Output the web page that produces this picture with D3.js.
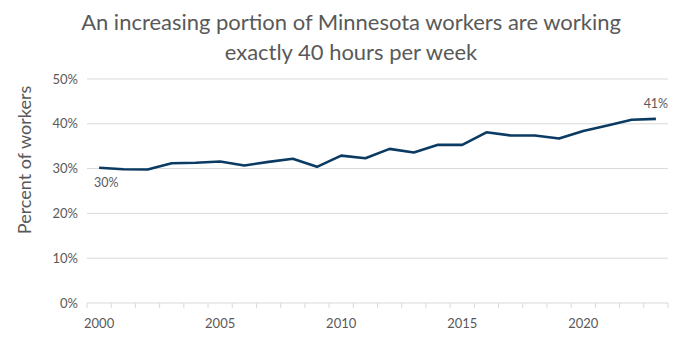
<!DOCTYPE html>
<html><head><meta charset="utf-8">
<script src="https://cdn.jsdelivr.net/npm/d3@7/dist/d3.min.js"></script>
<style>body{margin:0;background:#fff;} svg{display:block;font-family:Lato,"Open Sans","Liberation Sans",sans-serif;}</style>
</head><body><svg id="c" width="700" height="359"></svg>
<script>
const years = d3.range(2000, 2024);
const values = [30.2,29.85,29.8,31.2,31.3,31.6,30.7,31.5,32.2,30.4,32.9,32.3,34.4,33.6,35.3,35.3,38.1,37.4,37.4,36.7,38.4,39.6,40.9,41.1];
const yTicks = [0,10,20,30,40,50];
const xLabelYears = [2000,2005,2010,2015,2020];
const titleLines = ["An increasing portion of Minnesota workers are working","exactly 40 hours per week"];
const yTitle = "Percent of workers";

const svg = d3.select("#c");
const m = {l:87, r:700-668, t:79, b:359-303};
const W = 700, H = 359;
const x = d3.scaleBand().domain(years).range([m.l, W-m.r]);
const y = d3.scaleLinear().domain([0,50]).range([H-m.b, m.t]);
const gray = "#595959";

// gridlines
svg.append("g").selectAll("line").data(yTicks.filter(d=>d>0)).join("line")
  .attr("x1", m.l).attr("x2", W-m.r).attr("y1", d=>y(d)).attr("y2", d=>y(d))
  .attr("stroke", "#d9d9d9").attr("stroke-width", 1);

// y labels
svg.append("g").selectAll("text").data(yTicks).join("text")
  .attr("x", 78).attr("y", d=>y(d)).attr("dy","0.35em").attr("text-anchor","end")
  .attr("font-size", 13).attr("fill", gray).text(d=>d+"%");

// x axis
const xa = svg.append("g").attr("transform", `translate(0,${y(0)})`);
xa.append("line").attr("x1", m.l).attr("x2", W-m.r).attr("stroke","#d9d9d9");
const edges = years.map(d=>x(d)).concat([x(years[years.length-1])+x.bandwidth()]);
xa.selectAll("line.t").data(edges).join("line").attr("class","t")
  .attr("x1", d=>d).attr("x2", d=>d).attr("y1",0).attr("y2",5).attr("stroke","#d9d9d9");
xa.selectAll("text").data(xLabelYears).join("text")
  .attr("x", d=>x(d)+x.bandwidth()/2).attr("y", 25).attr("text-anchor","middle")
  .attr("font-size", 13).attr("fill", gray).text(d=>d);

// line
const line = d3.line().x((d,i)=>x(years[i])+x.bandwidth()/2).y(d=>y(d));
svg.append("path").datum(values).attr("d", line).attr("fill","none")
  .attr("stroke","#0b3a63").attr("stroke-width",2.6).attr("stroke-linejoin","round");

// data labels
svg.append("text").attr("x", x(years[0])+x.bandwidth()/2-5).attr("y", y(values[0])+19)
  .attr("font-size", 12.5).attr("fill", gray).text(Math.round(values[0])+"%");
svg.append("text").attr("x", x(years[23])+x.bandwidth()/2).attr("y", y(values[23])-11)
  .attr("text-anchor","middle").attr("font-size", 12.5).attr("fill", gray).text(Math.round(values[23])+"%");

// title
const tt = svg.append("g");
titleLines.forEach((t,i)=>{
  tt.append("text").attr("x", 351).attr("y", 30+i*30).attr("text-anchor","middle")
    .attr("font-size", 22).attr("fill", gray).text(t);
});
const n = tt.select("text").node();
const w = n.getComputedTextLength();
const fs = 22*540/w;
tt.selectAll("text").attr("font-size", fs);

// y title
svg.append("text").attr("transform", "translate(31,160) rotate(-90)").attr("text-anchor","middle")
  .attr("font-size", 18).attr("fill", gray).text(yTitle);
</script></body></html>
